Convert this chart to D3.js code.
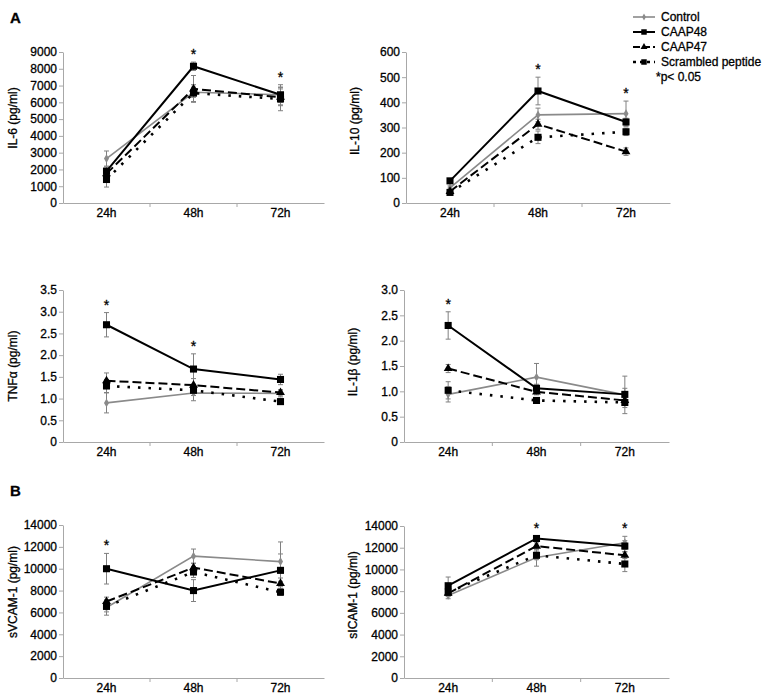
<!DOCTYPE html>
<html>
<head>
<meta charset="utf-8">
<script src="https://cdn.jsdelivr.net/npm/d3@7"></script>
<style>
  body { margin: 0; background: #fff; }
  svg { display: block; font-family: Arial, "Liberation Sans", sans-serif; }
  svg text { stroke: #000; stroke-width: 0.3px; paint-order: stroke; }
</style>
</head>
<body>
<div id="chart"></div>
<script>
const categories = ['24h', '48h', '72h'];
const seriesNames = ['Control', 'CAAP48', 'CAAP47', 'Scrambled peptide'];

// means, one row per series (Control, CAAP48, CAAP47, Scrambled peptide)
const il6Means = [[2650, 6600, 6450], [1900, 8150, 6450], [1750, 6800, 6300], [1400, 6550, 6200]];
const il6Errors = [[450, 300, 450], [250, 250, 600], [300, 800, 500], [450, 500, 700]];

const il10Means = [[60, 350, 355], [88, 445, 322], [46, 313, 204], [42, 261, 283]];
const il10Errors = [[8, 27, 50], [8, 55, 15], [6, 20, 15], [6, 25, 15]];

const tnfMeans = [[0.90, 1.13, 1.12], [2.70, 1.68, 1.44], [1.41, 1.31, 1.14], [1.29, 1.19, 0.93]];
const tnfErrors = [[0.23, 0.18, 0.08], [0.28, 0.35, 0.12], [0.18, 0.15, 0.06], [0.15, 0.12, 0.06]];

const il1bMeans = [[0.94, 1.28, 0.93], [2.30, 1.06, 0.94], [1.45, 0.99, 0.82], [1.02, 0.82, 0.78]];
const il1bErrors = [[0.15, 0.27, 0.37], [0.27, 0.08, 0.12], [0.08, 0.06, 0.10], [0.17, 0.05, 0.10]];

const vcamMeans = [[6450, 11150, 10650], [10000, 8000, 9850], [7000, 10100, 8650], [6550, 9700, 7850]];
const vcamErrors = [[700, 650, 1800], [1400, 1000, 1500], [400, 400, 500], [500, 500, 300]];

const icamMeans = [[7600, 11100, 12450], [8500, 12850, 12150], [7800, 12150, 11300], [7900, 11300, 10500]];
const icamErrors = [[300, 800, 600], [800, 200, 500], [300, 300, 300], [300, 400, 700]];

const axisLabels = ['IL-6 (pg/ml)', 'IL-10 (pg/ml)', 'TNFα (pg/ml)', 'IL-1β (pg/ml)', 'sVCAM-1 (pg/ml)', 'sICAM-1 (pg/ml)'];
const yMaxima = [9000, 600, 3.5, 3.0, 14000, 14000];
const ySteps = [1000, 100, 0.5, 0.5, 2000, 2000];
const significant = [[1, 2], [1, 2], [0, 1], [0], [0], [1, 2]]; // category indexes with *

const allMeans = [il6Means, il10Means, tnfMeans, il1bMeans, vcamMeans, icamMeans];
const allErrors = [il6Errors, il10Errors, tnfErrors, il1bErrors, vcamErrors, icamErrors];

// plot boxes (pixels) and y label position
const boxes = [
  { x0: 63, x1: 324, y0: 52, y1: 203, lx: 13, ly: 118 },
  { x0: 406, x1: 670, y0: 52, y1: 203, lx: 355, ly: 121 },
  { x0: 63, x1: 324, y0: 290, y1: 442, lx: 13, ly: 366 },
  { x0: 404, x1: 669, y0: 290, y1: 442, lx: 353, ly: 362 },
  { x0: 63, x1: 324, y0: 525, y1: 678, lx: 13, ly: 592 },
  { x0: 404, x1: 669, y0: 526, y1: 678, lx: 353, ly: 595 }
];

const styles = [
  { stroke: '#8a8a8a', width: 1.6, dash: null, symbol: d3.symbolDiamond, size: 22, fill: '#8a8a8a' },
  { stroke: '#000', width: 2, dash: null, symbol: d3.symbolSquare, size: 50, fill: '#000' },
  { stroke: '#000', width: 2, dash: '9,4', symbol: d3.symbolTriangle, size: 34, fill: '#000' },
  { stroke: '#000', width: 2.6, dash: '2.5,8', symbol: d3.symbolSquare, size: 50, fill: '#000' }
];

const axisColor = '#a8a8a8';
const errColor = '#808080';

const svg = d3.select('#chart').append('svg')
  .attr('width', 765).attr('height', 697);

svg.append('text').attr('x', 10).attr('y', 23)
  .attr('font-size', 15).attr('font-weight', 700).text('A');
svg.append('text').attr('x', 10).attr('y', 496)
  .attr('font-size', 15).attr('font-weight', 700).text('B');

boxes.forEach((b, p) => {
  const means = allMeans[p];
  const errors = allErrors[p];
  const g = svg.append('g');

  const x = d3.scaleBand().domain(categories).range([b.x0, b.x1]);
  const cx = c => x(c) + x.bandwidth() / 2;
  const y = d3.scaleLinear().domain([0, yMaxima[p]]).range([b.y1, b.y0]);

  const step = ySteps[p];
  const ticks = d3.range(0, yMaxima[p] + step / 2, step);
  const fmt = step < 1 ? (d => d === 0 ? '0' : d3.format('.1f')(d)) : d3.format('d');

  // y axis
  const ya = g.append('g').attr('transform', `translate(${b.x0},0)`)
    .call(d3.axisLeft(y).tickValues(ticks).tickFormat(fmt).tickSize(4).tickSizeOuter(0).tickPadding(2));
  ya.select('.domain').attr('stroke', axisColor);
  ya.selectAll('.tick line').attr('stroke', axisColor);
  ya.selectAll('.tick text').attr('font-size', 12).attr('fill', '#000');

  // x axis
  const xa = g.append('g').attr('transform', `translate(0,${b.y1})`)
    .call(d3.axisBottom(x).tickSize(0).tickPadding(5).tickSizeOuter(0));
  xa.select('.domain').attr('stroke', axisColor);
  xa.selectAll('.tick text').attr('font-size', 12).attr('fill', '#000');
  categories.forEach((c, i) => {
    if (i === 0) return;
    g.append('line')
      .attr('x1', x(c)).attr('x2', x(c))
      .attr('y1', b.y1).attr('y2', b.y1 + 4)
      .attr('stroke', axisColor);
  });

  // y label
  g.append('text')
    .attr('transform', `translate(${b.lx},${b.ly}) rotate(-90)`)
    .attr('text-anchor', 'middle').attr('dy', '0.35em')
    .attr('font-size', 12).text(axisLabels[p]);

  // error bars
  means.forEach((row, s) => {
    row.forEach((v, i) => {
      const e = errors[s][i];
      const px = cx(categories[i]);
      const eg = g.append('g').attr('stroke', errColor).attr('stroke-width', 1);
      eg.append('line').attr('x1', px).attr('x2', px).attr('y1', y(v - e)).attr('y2', y(v + e));
      eg.append('line').attr('x1', px - 2.5).attr('x2', px + 2.5).attr('y1', y(v - e)).attr('y2', y(v - e));
      eg.append('line').attr('x1', px - 2.5).attr('x2', px + 2.5).attr('y1', y(v + e)).attr('y2', y(v + e));
    });
  });

  // lines
  const line = d3.line().x((d, i) => cx(categories[i])).y(d => y(d));
  means.forEach((row, s) => {
    const st = styles[s];
    g.append('path').datum(row)
      .attr('d', line)
      .attr('fill', 'none')
      .attr('stroke', st.stroke)
      .attr('stroke-width', st.width)
      .attr('stroke-dasharray', st.dash);
  });

  // markers
  means.forEach((row, s) => {
    const st = styles[s];
    g.selectAll(null).data(row).enter().append('path')
      .attr('d', d3.symbol().type(st.symbol).size(st.size))
      .attr('transform', (d, i) => `translate(${cx(categories[i])},${y(d)})`)
      .attr('fill', st.fill);
  });

  // significance stars
  significant[p].forEach(i => {
    const top = d3.max(means, (row, s) => row[i] + errors[s][i]);
    g.append('text')
      .attr('x', cx(categories[i])).attr('y', y(top) - 3)
      .attr('text-anchor', 'middle').attr('font-size', 14)
      .text('*');
  });
});

// legend
const legendRows = [17, 32, 47, 62];
const lg = svg.append('g');
seriesNames.forEach((name, s) => {
  const st = styles[s];
  const ly = legendRows[s];
  lg.append('line')
    .attr('x1', 633).attr('x2', 655).attr('y1', ly).attr('y2', ly)
    .attr('stroke', st.stroke).attr('stroke-width', st.width)
    .attr('stroke-dasharray', s === 2 ? '7,3' : (s === 3 ? '3,4' : null));
  lg.append('path')
    .attr('d', d3.symbol().type(st.symbol).size(st.size * 0.6))
    .attr('transform', `translate(644,${ly})`)
    .attr('fill', st.fill);
  lg.append('text')
    .attr('x', 661).attr('y', ly).attr('dy', '0.35em')
    .attr('font-size', 12).text(name);
});
lg.append('text')
  .attr('x', 656).attr('y', 77).attr('dy', '0.35em')
  .attr('font-size', 12).text('*p< 0.05');
</script>
</body>
</html>
